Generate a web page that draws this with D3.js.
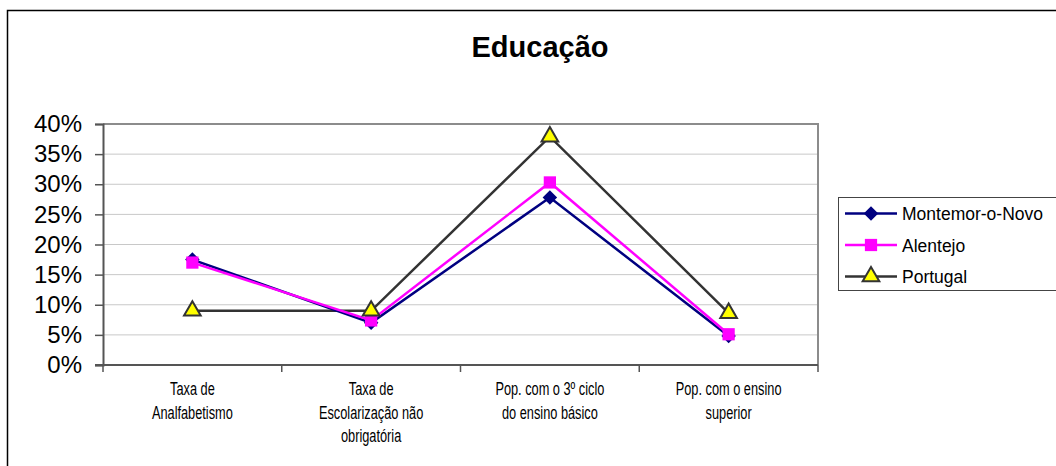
<!DOCTYPE html>
<html>
<head>
<meta charset="utf-8">
<script src="https://cdn.jsdelivr.net/npm/d3@7"></script>
<style>
  body { margin: 0; background: #fff; }
  svg { display: block; font-family: Arial, "Liberation Sans", sans-serif; }
</style>
</head>
<body>
<div id="chart"></div>
<script>
// categories (multi-line labels) and series values, in %
const categories = [
  ["Taxa de", "Analfabetismo"],
  ["Taxa de", "Escolarização não", "obrigatória"],
  ["Pop. com o 3º ciclo", "do ensino básico"],
  ["Pop. com o ensino", "superior"]
];
const montemor = [17.5, 7.0, 27.8, 4.8];
const alentejo = [17.0, 7.4, 30.3, 5.1];
const portugal = [9.0, 9.0, 37.9, 8.6];
const yTicks = [0, 5, 10, 15, 20, 25, 30, 35, 40];

const seriesNames = ["Montemor-o-Novo", "Alentejo", "Portugal"];

const width = 1056, height = 466;
const plot = { left: 103, right: 818, top: 124, bottom: 365 };

const svg = d3.select("#chart")
  .append("svg")
  .attr("width", width)
  .attr("height", height);

// outer chart frame
svg.append("rect")
  .attr("x", 7.5).attr("y", 10.5)
  .attr("width", 1100).attr("height", 500)
  .attr("fill", "none")
  .attr("stroke", "#000")
  .attr("stroke-width", 1.5);

// title
svg.append("text")
  .attr("x", 540).attr("y", 57)
  .attr("text-anchor", "middle")
  .style("font-size", "29px")
  .style("font-weight", "bold")
  .text("Educação");

const keys = categories.map((d, i) => i);
const x = d3.scaleBand().domain(keys).range([plot.left, plot.right]);
const y = d3.scaleLinear().domain([0, 40]).range([plot.bottom, plot.top]);

// gridlines
svg.append("g")
  .selectAll("line")
  .data(yTicks.filter(t => t > 0 && t < 40))
  .join("line")
  .attr("x1", plot.left).attr("x2", plot.right)
  .attr("y1", d => y(d)).attr("y2", d => y(d))
  .attr("stroke", "#c8c8c8")
  .attr("stroke-width", 1);

// top & right border of plot area
svg.append("path")
  .attr("d", `M${plot.left},${y(40)}H${plot.right}V${plot.bottom}`)
  .attr("fill", "none")
  .attr("stroke", "#8c8c8c")
  .attr("stroke-width", 2);

// y axis
const yAxis = svg.append("g")
  .attr("transform", `translate(${plot.left},0)`)
  .call(d3.axisLeft(y).tickValues(yTicks).tickSize(8).tickPadding(13).tickFormat(d => d + "%"));
yAxis.select(".domain").attr("stroke", "#555").attr("stroke-width", 2);
yAxis.selectAll(".tick line").attr("stroke", "#555").attr("stroke-width", 1.5);
yAxis.selectAll(".tick text")
  .style("font-size", "24px")
  .style("font-family", "Arial, 'Liberation Sans', sans-serif")
  .attr("fill", "#000");

// x axis (ticks on category boundaries)
const xg = svg.append("g");
xg.append("line")
  .attr("x1", plot.left - 8).attr("x2", plot.right)
  .attr("y1", plot.bottom).attr("y2", plot.bottom)
  .attr("stroke", "#555").attr("stroke-width", 2);
const bounds = keys.map(k => x(k)).concat([x(keys[keys.length - 1]) + x.bandwidth()]);
xg.selectAll(".xtick")
  .data(bounds)
  .join("line")
  .attr("class", "xtick")
  .attr("x1", d => d).attr("x2", d => d)
  .attr("y1", plot.bottom).attr("y2", plot.bottom + 7)
  .attr("stroke", "#555").attr("stroke-width", 1.5);

// labels are horizontally condensed in the original
xg.selectAll(".xlabel")
  .data(categories)
  .join("text")
  .attr("class", "xlabel")
  .attr("text-anchor", "middle")
  .attr("transform", (d, i) => `translate(${x(i) + x.bandwidth() / 2},0) scale(0.73,1)`)
  .style("font-size", "17.5px")
  .each(function (lines) {
    d3.select(this).selectAll("tspan")
      .data(lines)
      .join("tspan")
      .attr("x", 0)
      .attr("y", (d, j) => 395.5 + j * 23.5)
      .text(d => d);
  });

// series
const series = [
  { name: seriesNames[0], values: montemor, color: "#000080", marker: "diamond" },
  { name: seriesNames[1], values: alentejo, color: "#ff00ff", marker: "square" },
  { name: seriesNames[2], values: portugal, color: "#333333", marker: "triangle" }
];

const symbolFor = {
  diamond: d3.symbol().type(d3.symbolDiamond2).size(135),
  square: d3.symbol().type(d3.symbolSquare).size(150),
  triangle: d3.symbol().type(d3.symbolTriangle).size(120)
};

function drawMarker(g, s, cx, cy) {
  const p = g.append("path")
    .attr("d", symbolFor[s.marker]())
    .attr("transform", `translate(${cx},${cy})`);
  if (s.marker === "triangle") {
    p.attr("fill", "#ffff00").attr("stroke", "#333").attr("stroke-width", 2);
  } else {
    p.attr("fill", s.color);
  }
}

const line = d3.line()
  .x((d, i) => x(i) + x.bandwidth() / 2)
  .y(d => y(d));

[series[2], series[0], series[1]].forEach(s => {
  svg.append("path")
    .datum(s.values)
    .attr("d", line)
    .attr("fill", "none")
    .attr("stroke", s.color)
    .attr("stroke-width", 2.5);
});
[series[0], series[1], series[2]].forEach(s => {
  const g = svg.append("g");
  s.values.forEach((v, i) => drawMarker(g, s, x(i) + x.bandwidth() / 2, y(v)));
});

// legend
const legend = svg.append("g");
legend.append("rect")
  .attr("x", 838.5).attr("y", 197.5)
  .attr("width", 260).attr("height", 93)
  .attr("fill", "#fff")
  .attr("stroke", "#444")
  .attr("stroke-width", 1);

series.forEach((s, i) => {
  const cy = 213.5 + i * 31.5;
  legend.append("line")
    .attr("x1", 845).attr("x2", 897)
    .attr("y1", cy).attr("y2", cy)
    .attr("stroke", s.color).attr("stroke-width", 2.5);
  drawMarker(legend, s, 871, cy);
  legend.append("text")
    .attr("x", 902).attr("y", cy + 6.5)
    .style("font-size", "17.5px")
    .text(s.name);
});
</script>
</body>
</html>
